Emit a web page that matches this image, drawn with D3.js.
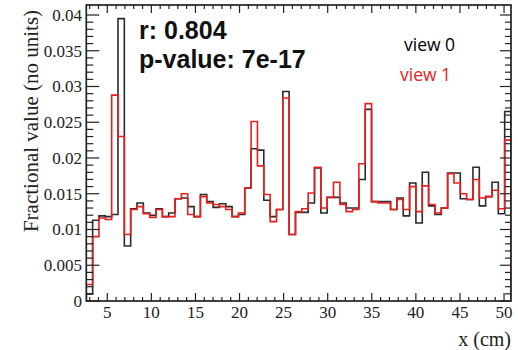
<!DOCTYPE html>
<html>
<head>
<meta charset="utf-8">
<script src="https://cdn.jsdelivr.net/npm/d3@7"></script>
<style>
  body { margin: 0; background: #fff; }
  svg { display: block; }
</style>
</head>
<body>
<div id="chart"></div>
<script>
// Histogram binning (cm)
const xLow = 2.62;
const xHigh = 50.79;
const nBins = 67;

// Fractional value per bin, view 0 (black) and view 1 (red)
const view0 = [
  0.0010, 0.0113, 0.0119, 0.0118, 0.0121, 0.0395, 0.0077, 0.0129, 0.0137, 0.0123,
  0.0120, 0.0129, 0.0118, 0.0123, 0.0143, 0.0144, 0.0132, 0.0118, 0.0149, 0.0139,
  0.0131, 0.0136, 0.0132, 0.0118, 0.0121, 0.0158, 0.0213, 0.0211, 0.0141, 0.0118,
  0.0128, 0.0293, 0.0093, 0.0124, 0.0124, 0.0137, 0.0186, 0.0123, 0.0145, 0.0145,
  0.0137, 0.0130, 0.0130, 0.0170, 0.0268, 0.0139, 0.0139, 0.0139, 0.0128, 0.0144,
  0.0119, 0.0165, 0.0109, 0.0180, 0.0133, 0.0121, 0.0130, 0.0179, 0.0179, 0.0143,
  0.0142, 0.0187, 0.0133, 0.0146, 0.0166, 0.0122, 0.0265
];
const view1 = [
  0.0023, 0.0090, 0.0116, 0.0114, 0.0288, 0.0230, 0.0093, 0.0128, 0.0132, 0.0122,
  0.0117, 0.0128, 0.0118, 0.0118, 0.0143, 0.0150, 0.0121, 0.0118, 0.0146, 0.0137,
  0.0135, 0.0132, 0.0128, 0.0118, 0.0123, 0.0158, 0.0251, 0.0189, 0.0149, 0.0111,
  0.0128, 0.0284, 0.0093, 0.0125, 0.0129, 0.0151, 0.0187, 0.0130, 0.0145, 0.0166,
  0.0135, 0.0125, 0.0128, 0.0192, 0.0276, 0.0139, 0.0137, 0.0137, 0.0128, 0.0142,
  0.0128, 0.0160, 0.0125, 0.0161, 0.0135, 0.0123, 0.0130, 0.0178, 0.0165, 0.0150,
  0.0142, 0.0170, 0.0144, 0.0146, 0.0155, 0.0129, 0.0225
];

// Axis ticks
const xMajor = [5, 10, 15, 20, 25, 30, 35, 40, 45, 50];
const xMinor = d3.range(3, 51);
const yMajor = [0, 0.005, 0.01, 0.015, 0.02, 0.025, 0.03, 0.035, 0.04];
const yMajorLabels = ["0", "0.005", "0.01", "0.015", "0.02", "0.025", "0.03", "0.035", "0.04"];
const yMinor = d3.range(0, 41).map(d => d / 1000);

const statLines = ["r: 0.804", "p-value: 7e-17"];
const legendLabels = ["view 0", "view 1"];
const colors = ["#2a2a2a", "#ee1c1c"];

const W = 518, H = 350;
const frame = { left: 86.3, right: 511, top: 5, bottom: 301 };

const svg = d3.select('#chart').append('svg')
  .attr('width', W).attr('height', H);

svg.append('rect').attr('width', W).attr('height', H).attr('fill', '#fff');

const x = d3.scaleLinear().domain([xLow, xHigh]).range([frame.left, frame.right]);
const y = d3.scaleLinear().domain([0, 0.04]).range([frame.bottom, 15]);

svg.append('clipPath').attr('id', 'clip')
  .append('rect')
  .attr('x', frame.left).attr('y', frame.top)
  .attr('width', frame.right - frame.left).attr('height', frame.bottom - frame.top);

// step outline for a histogram
const binW = (xHigh - xLow) / nBins;
function stepPoints(vals) {
  const pts = [[xLow, 0]];
  vals.forEach((v, i) => {
    pts.push([xLow + i * binW, v]);
    pts.push([xLow + (i + 1) * binW, v]);
  });
  pts.push([xLow + vals.length * binW, 0]);
  return pts;
}
const line = d3.line().x(d => x(d[0])).y(d => y(d[1]));

const plot = svg.append('g').attr('clip-path', 'url(#clip)');
[view0, view1].forEach((vals, i) => {
  plot.append('path')
    .attr('d', line(stepPoints(vals)))
    .attr('fill', 'none')
    .attr('stroke', colors[i])
    .attr('stroke-width', 1.6);
});

// frame
svg.append('rect')
  .attr('x', frame.left).attr('y', frame.top)
  .attr('width', frame.right - frame.left).attr('height', frame.bottom - frame.top)
  .attr('fill', 'none').attr('stroke', '#222').attr('stroke-width', 1.7);

const ticks = svg.append('g').attr('stroke', '#222').attr('stroke-width', 1.2);

// x ticks, bottom and top, pointing inside
xMinor.forEach(v => {
  const len = xMajor.includes(v) ? 8 : 4;
  ticks.append('line').attr('x1', x(v)).attr('x2', x(v))
    .attr('y1', frame.bottom).attr('y2', frame.bottom - len);
  ticks.append('line').attr('x1', x(v)).attr('x2', x(v))
    .attr('y1', frame.top).attr('y2', frame.top + len);
});

// y ticks, left and right
yMinor.forEach(v => {
  const major = Math.round(v * 1000) % 5 === 0;
  ticks.append('line').attr('x1', frame.left).attr('x2', frame.left + (major ? 13 : 7))
    .attr('y1', y(v)).attr('y2', y(v));
  ticks.append('line').attr('x1', frame.right).attr('x2', frame.right - (major ? 11 : 6))
    .attr('y1', y(v)).attr('y2', y(v));
});

const serif = '"Liberation Serif", "Times New Roman", serif';

svg.append('g').selectAll('text')
  .data(xMajor).enter().append('text')
  .attr('x', d => x(d)).attr('y', 318)
  .attr('text-anchor', 'middle')
  .style('font-family', serif).style('font-size', '17px').style('fill', '#222')
  .text(d => d);

svg.append('g').selectAll('text')
  .data(yMajor).enter().append('text')
  .attr('x', 82).attr('y', d => y(d)).attr('dy', '0.35em')
  .attr('text-anchor', 'end')
  .style('font-family', serif).style('font-size', '17px').style('fill', '#222')
  .text((d, i) => yMajorLabels[i]);

// axis titles
svg.append('text')
  .attr('x', 511).attr('y', 346)
  .attr('text-anchor', 'end')
  .style('font-family', serif).style('font-size', '20px').style('fill', '#222')
  .text('x (cm)');

svg.append('text')
  .attr('transform', 'translate(38,121) rotate(-90)')
  .attr('text-anchor', 'middle')
  .style('font-family', serif).style('font-size', '21px').style('fill', '#222')
  .text('Fractional value (no units)');

// stats text
svg.append('g').selectAll('text')
  .data(statLines).enter().append('text')
  .attr('x', 139).attr('y', (d, i) => 39 + i * 29)
  .style('font-family', '"Liberation Sans", Arial, sans-serif')
  .style('font-weight', 'bold').style('font-size', '25px').style('fill', '#111')
  .text(d => d);

// legend labels
svg.append('g').selectAll('text')
  .data(legendLabels).enter().append('text')
  .attr('x', (d, i) => i === 0 ? 404 : 400).attr('y', (d, i) => 51 + i * 30)
  .style('font-family', '"Open Sans", sans-serif')
  .style('font-size', '17.5px')
  .style('fill', (d, i) => i === 0 ? '#000' : '#e8201c')
  .text(d => d);
</script>
</body>
</html>
